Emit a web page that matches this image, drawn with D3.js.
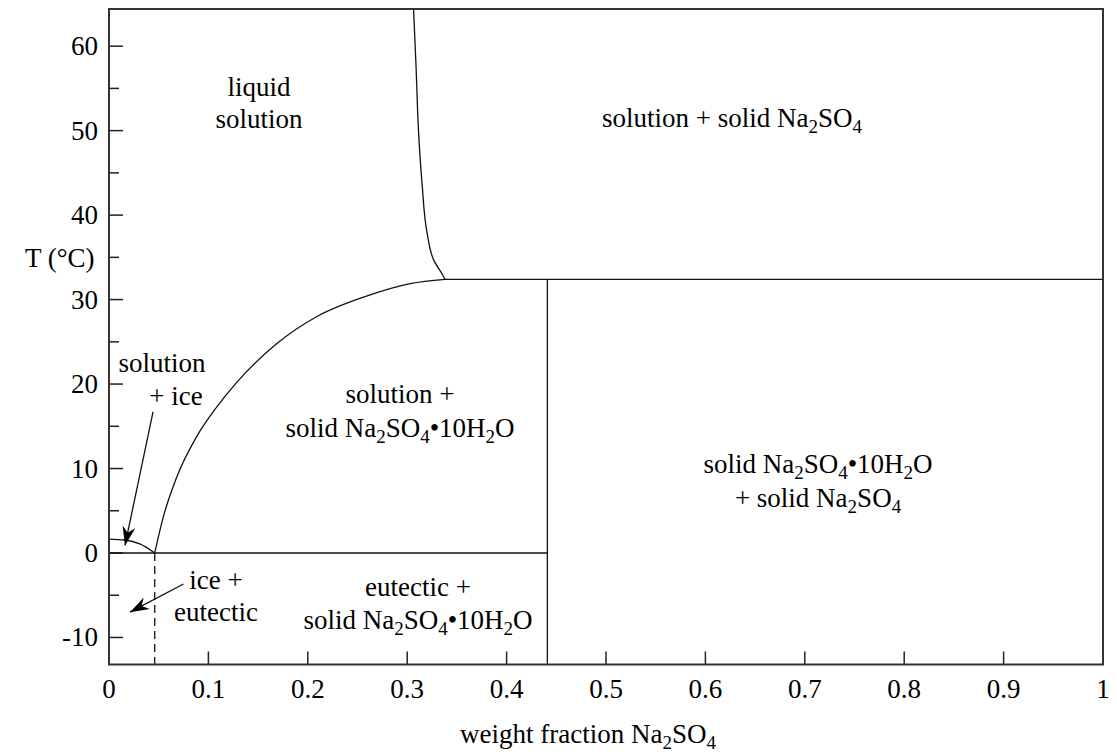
<!DOCTYPE html>
<meta charset="utf-8">
<body style="margin:0">
<script src="https://d3js.org/d3.v7.min.js"></script>
<script>

var serifName = "Liberation Serif";

// axis ticks
var xTicks = [0, 0.1, 0.2, 0.3, 0.4, 0.5, 0.6, 0.7, 0.8, 0.9, 1];
var xTickLabels = ["0", "0.1", "0.2", "0.3", "0.4", "0.5", "0.6", "0.7", "0.8", "0.9", "1"];
var yTicks = [-10, 0, 10, 20, 30, 40, 50, 60];
var yTickLabels = ["-10", "0", "10", "20", "30", "40", "50", "60"];
var yMinorTicks = [-5, 5, 15, 25, 35, 45, 55];

// special points of the diagram (weight fraction, T in C)
var eutecticX = 0.046, eutecticT = 0;
var transitionX = 0.338, transitionT = 32.4;
var hydrateX = 0.441;   // Na2SO4.10H2O composition

// solubility of anhydrous Na2SO4 (top -> transition point)
var anhydrousX = [0.3064, 0.3089, 0.3115, 0.3149, 0.320, 0.3266, 0.3367, 0.338];
var anhydrousT = [64.4, 57.6, 49.7, 43.8, 37.9, 34.7, 32.7, 32.4];

// solubility of the decahydrate (eutectic -> transition point)
var decaX = [0.046, 0.0547, 0.0682, 0.0883, 0.1085, 0.127, 0.1689, 0.2092, 0.2561, 0.3031, 0.338];
var decaT = [0, 4.3, 9.0, 13.8, 17.3, 20.0, 24.8, 28.0, 30.3, 31.9, 32.4];

// ice freezing curve
var iceX = [0, 0.016, 0.031, 0.046];
var iceT = [1.65, 1.54, 1.07, 0];

// region labels: text (_n = subscript), x, y in px, anchor
var labelText = ["liquid", "solution", "solution + solid Na_2SO_4", "T (°C)", "solution", "+ ice",
  "solution +", "solid Na_2SO_4•10H_2O", "solid Na_2SO_4•10H_2O", "+ solid Na_2SO_4",
  "ice +", "eutectic", "eutectic +", "solid Na_2SO_4•10H_2O", "weight fraction Na_2SO_4"];

var W = 1117, H = 756;
var x = d3.scaleLinear().domain([0, 1]).range([109, 1103]);
var y = d3.scaleLinear().domain([-13.2, 64.4]).range([664.5, 9]);

var svg = d3.select("body").append("svg")
    .attr("width", W)
    .attr("height", H);

svg.append("defs").append("marker")
    .attr("id", "head")
    .attr("viewBox", "-19 -7 20 14")
    .attr("markerUnits", "userSpaceOnUse")
    .attr("markerWidth", 20)
    .attr("markerHeight", 14)
    .attr("orient", "auto")
  .append("path")
    .attr("d", "M0,0 L-19,-6.5 L-13,0 L-19,6.5 Z")
    .attr("fill", "#000");

// ticks drawn by hand from the scales, pointing inwards
function tickText(px, py, s, anchor) {
  svg.append("text")
      .style("font-family", "'" + serifName + "', monospace")
      .style("font-size", "27px")
      .attr("x", px).attr("y", py)
      .attr("text-anchor", anchor)
      .attr("fill", "#000")
      .text(s);
}

yTicks.forEach(function(d, i) {
  svg.append("line").attr("x1", x(0)).attr("x2", x(0) + 14)
      .attr("y1", y(d)).attr("y2", y(d)).attr("stroke", "#222").attr("stroke-width", 1.5);
  tickText(x(0) - 11, y(d) + 9, yTickLabels[i], "end");
});
yMinorTicks.forEach(function(d) {
  svg.append("line").attr("x1", x(0)).attr("x2", x(0) + 10)
      .attr("y1", y(d)).attr("y2", y(d)).attr("stroke", "#222").attr("stroke-width", 1.5);
});
var yb = y.range()[0];
xTicks.forEach(function(d, i) {
  svg.append("line").attr("x1", x(d)).attr("x2", x(d))
      .attr("y1", yb).attr("y2", yb - 13).attr("stroke", "#222").attr("stroke-width", 1.5);
  tickText(x(d), yb + 33, xTickLabels[i], "middle");
});

// phase boundaries
function pairs(xs, ts) { return xs.map(function(v, i) { return [v, ts[i]]; }); }
function curve(c) {
  return d3.line()
    .x(function(d) { return x(d[0]); })
    .y(function(d) { return y(d[1]); })
    .curve(c);
}
function phase(d) {
  return svg.append("path").attr("d", d)
      .attr("fill", "none").attr("stroke", "#111").attr("stroke-width", 1.3);
}

phase(curve(d3.curveMonotoneY)(pairs(anhydrousX, anhydrousT)));
phase(curve(d3.curveMonotoneX)(pairs(decaX, decaT)));
phase(curve(d3.curveMonotoneX)(pairs(iceX, iceT)));

var bottomT = y.domain()[0];
phase(curve(d3.curveLinear)([[0, eutecticT], [hydrateX, eutecticT]]));
phase(curve(d3.curveLinear)([[transitionX, transitionT], [1, transitionT]]));
phase(curve(d3.curveLinear)([[hydrateX, bottomT], [hydrateX, transitionT]]));
phase(curve(d3.curveLinear)([[eutecticX, eutecticT], [eutecticX, bottomT]]))
    .attr("stroke-dasharray", "8,5");

// arrows (from label to region)
var arrows = [
  [[0.0443, 16.7], [0.0161, 0.9]],
  [[0.0749, -3.67], [0.0211, -7.0]]
];
arrows.forEach(function(a) {
  phase(curve(d3.curveLinear)(a)).attr("marker-end", "url(#head)");
});

svg.append("rect")
    .attr("x", x(0)).attr("y", y.range()[1])
    .attr("width", x(1) - x(0)).attr("height", y.range()[0] - y.range()[1])
    .attr("fill", "none").attr("stroke", "#333").attr("stroke-width", 2);

// text with _n subscripts
var labelX = [259, 259, 732, 25, 162, 176, 400, 400, 818, 818, 216, 216, 418, 418, 460];
var labelY = [96, 128, 127, 267, 372, 405, 403, 437, 473, 507, 589, 621, 596, 629, 743];
var labelAnchor = ["middle", "middle", "middle", "start", "middle", "middle", "middle", "middle",
  "middle", "middle", "middle", "middle", "middle", "middle", "start"];

labelText.forEach(function(str, k) {
  var t = svg.append("text")
      .style("font-family", "'" + serifName + "', monospace")
      .style("font-size", "27px")
      .attr("x", labelX[k]).attr("y", labelY[k])
      .attr("fill", "#000")
      .attr("text-anchor", labelAnchor[k]);
  var parts = str.split(/_(\d+)/);
  var down = false;
  parts.forEach(function(p, i) {
    if (p === "") return;
    if (i % 2 === 1) {
      t.append("tspan").attr("dy", 6).style("font-size", "19px").text(p);
      down = true;
    } else {
      t.append("tspan").attr("dy", down ? -6 : 0).text(p);
      down = false;
    }
  });
});

</script>
</body>
